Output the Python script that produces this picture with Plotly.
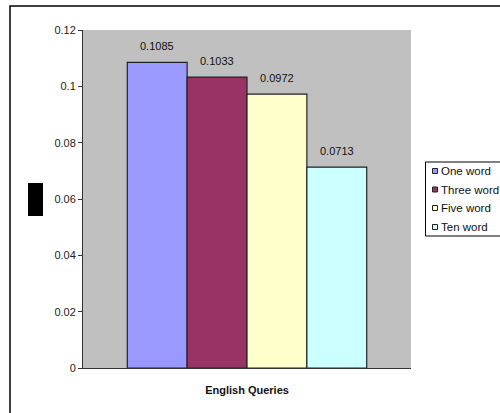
import plotly.graph_objects as go

categories = ["English Queries"]
series_names = ["One word", "Three word", "Five word", "Ten word"]
series_values = [0.1085, 0.1033, 0.0972, 0.0713]
series_colors = ["#9999FF", "#993366", "#FFFFCC", "#CCFFFF"]
y_ticks = [0, 0.02, 0.04, 0.06, 0.08, 0.1, 0.12]
y_tick_labels = ["0", "0.02", "0.04", "0.06", "0.08", "0.1", "0.12"]

W, H = 500, 413
ML, MR, MT, MB = 83, 89, 30, 45
BARGAP = 0.27
plot_w = W - ML - MR
plot_h = H - MT - MB
bar_px = plot_w * (1 - BARGAP) / len(series_names)


def px_x(px):
    """Pixel column -> paper x."""
    return (px - ML) / plot_w


def px_y(py):
    """Pixel row (from top) -> paper y."""
    return (H - MB - py) / plot_h


fig = go.Figure()
for name, val, col in zip(series_names, series_values, series_colors):
    fig.add_trace(go.Bar(
        x=categories, y=[val], name=name, showlegend=False,
        marker=dict(color=col, line=dict(color="#222222", width=1.2)),
    ))

annotations = []
n = len(series_names)
for i, val in enumerate(series_values):
    annotations.append(dict(
        x=categories[0], y=val, xref="x", yref="y",
        text=f"{val:.4f}", showarrow=False,
        xshift=(i - (n - 1) / 2) * bar_px, yshift=8, yanchor="bottom",
        font=dict(family="Liberation Sans, Arial", size=11, color="#111111"),
    ))

shapes = [
    # outer chart frame
    dict(type="rect", xref="paper", yref="paper",
         x0=px_x(10), x1=px_x(520), y0=px_y(430), y1=px_y(6),
         line=dict(color="#000000", width=1.5), fillcolor="rgba(0,0,0,0)",
         layer="below"),
    # axis title block
    dict(type="rect", xref="paper", yref="paper",
         x0=px_x(28), x1=px_x(43), y0=px_y(216), y1=px_y(183),
         line=dict(width=0), fillcolor="#000000"),
    # legend box
    dict(type="rect", xref="paper", yref="paper",
         x0=px_x(425.5), x1=px_x(520), y0=px_y(236), y1=px_y(162),
         line=dict(color="#000000", width=1), fillcolor="white"),
]

# legend entries
legend_rows = [171, 189.5, 208, 227]
for name, col, row in zip(series_names, series_colors, legend_rows):
    shapes.append(dict(
        type="rect", xref="paper", yref="paper",
        x0=px_x(432.5), x1=px_x(437.5), y0=px_y(row + 2.5), y1=px_y(row - 2.5),
        line=dict(color="#222222", width=1), fillcolor=col,
    ))
    annotations.append(dict(
        x=px_x(439), y=px_y(row), xref="paper", yref="paper",
        text=name, showarrow=False, xanchor="left", yanchor="middle",
        font=dict(family="Liberation Sans, Arial", size=11.5, color="#111111"),
    ))

fig.update_layout(
    width=W, height=H,
    margin=dict(l=ML, r=MR, t=MT, b=MB, autoexpand=False),
    paper_bgcolor="white",
    plot_bgcolor="#C0C0C0",
    barmode="group",
    bargap=BARGAP,
    bargroupgap=0,
    showlegend=False,
    font=dict(family="Liberation Sans, Arial", size=11, color="#111111"),
    xaxis=dict(
        showgrid=False, zeroline=False, showline=True,
        linecolor="#333333", linewidth=1,
        tickvals=categories, ticktext=["<b>English Queries</b>"],
        ticks="", ticklabelstandoff=12,
        tickfont=dict(size=11, color="#111111"),
    ),
    yaxis=dict(
        range=[0, 0.12], tickvals=y_ticks, ticktext=y_tick_labels,
        showgrid=False, zeroline=False, showline=True,
        linecolor="#333333", linewidth=1,
        ticks="outside", ticklen=4, tickcolor="#333333",
        tickfont=dict(size=11, color="#222222"),
    ),
    annotations=annotations,
    shapes=shapes,
)

fig.write_html("out.html")
